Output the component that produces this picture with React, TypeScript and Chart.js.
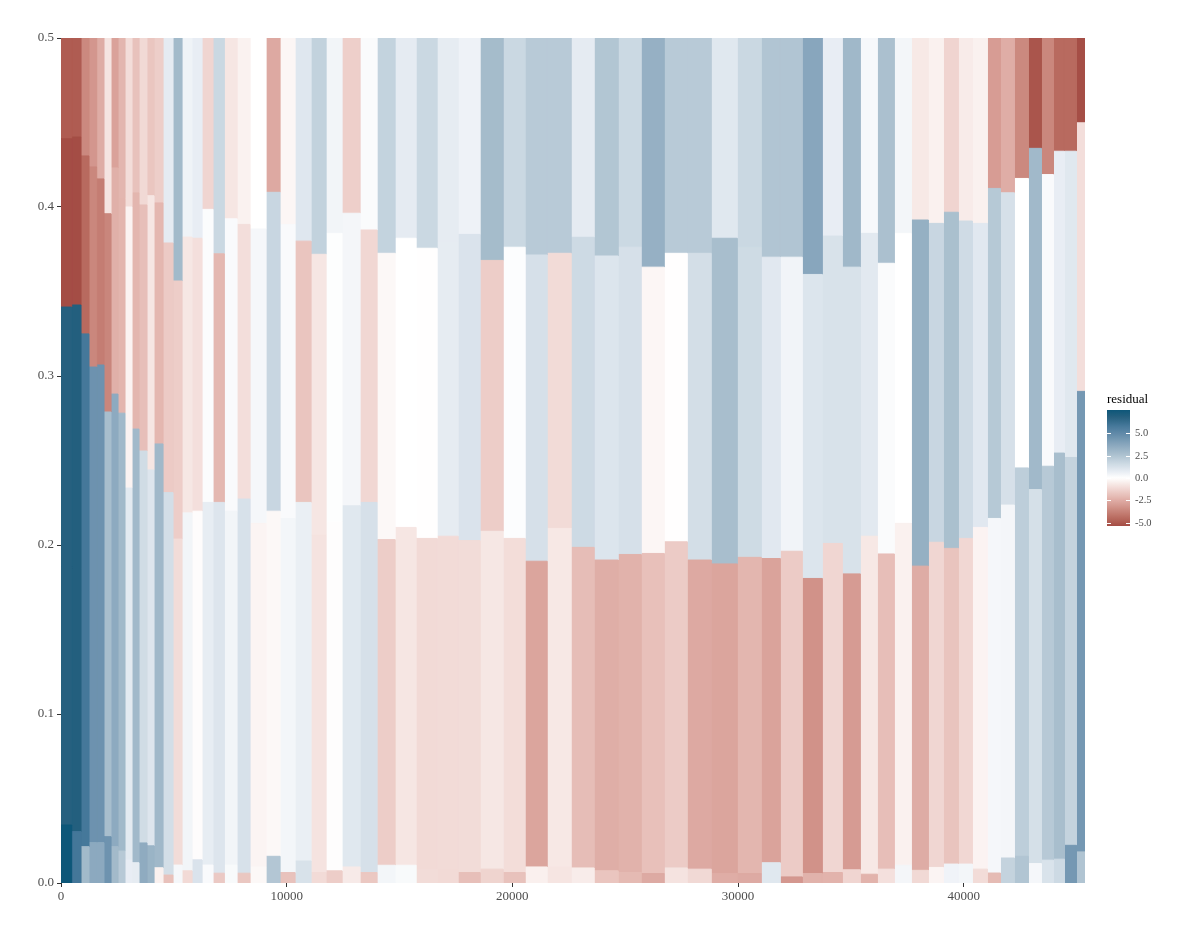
import React, { useEffect, useRef } from 'react';
import { Chart, registerables } from 'chart.js';

Chart.register(...registerables);

// ---------- data ----------
// column edges along x (67 columns)
const X_EDGES = [0, 474, 887, 1241, 1583, 1906, 2217, 2527, 2837, 3148, 3458, 3812, 4123, 4522, 4965, 5364, 5807, 6251, 6738, 7239, 7802, 8378, 9088, 9708, 10373, 11082, 11747, 12456, 13254, 14008, 14806, 15737, 16668, 17599, 18574, 19594, 20569, 21544, 22608, 23628, 24692, 25711, 26731, 27751, 28814, 29967, 31031, 31874, 32849, 33735, 34622, 35420, 36174, 36927, 37681, 38435, 39100, 39765, 40385, 41050, 41627, 42247, 42868, 43444, 43976, 44464, 44996, 45373];

const Y_TOP = 0.5;

// cumulative upper bounds of segments 1..3 (segment 4 reaches Y_TOP)
const BOUND_1 = [0.0343, 0.0304, 0.0215, 0.0239, 0.0239, 0.0274, 0.0215, 0.0189, 0.0136, 0.012, 0.0237, 0.022, 0.009, 0.0047, 0.0106, 0.0072, 0.0137, 0.0106, 0.0058, 0.0106, 0.0058, 0.0095, 0.0158, 0.0062, 0.013, 0.0062, 0.0072, 0.0095, 0.0062, 0.0105, 0.0105, 0.008, 0.008, 0.0062, 0.0082, 0.0062, 0.0095, 0.0095, 0.0089, 0.0072, 0.0062, 0.0056, 0.0089, 0.0082, 0.0056, 0.0056, 0.012, 0.0036, 0.0056, 0.0062, 0.0078, 0.0052, 0.0082, 0.0105, 0.0075, 0.0092, 0.0112, 0.0112, 0.0082, 0.0059, 0.0148, 0.0158, 0.0115, 0.0135, 0.0141, 0.0223, 0.0184];
const BOUND_2 = [0.3408, 0.342, 0.3249, 0.3053, 0.3065, 0.2787, 0.2893, 0.278, 0.2337, 0.2686, 0.2556, 0.2444, 0.2598, 0.231, 0.2035, 0.219, 0.22, 0.2252, 0.2252, 0.22, 0.2272, 0.2128, 0.22, 0.2157, 0.2252, 0.2058, 0.2137, 0.2232, 0.2252, 0.2032, 0.2104, 0.2039, 0.2052, 0.2026, 0.2081, 0.2039, 0.1904, 0.2098, 0.1986, 0.1911, 0.1944, 0.195, 0.2019, 0.1911, 0.1888, 0.1927, 0.192, 0.1963, 0.1802, 0.2009, 0.1829, 0.2052, 0.1947, 0.2128, 0.1875, 0.2016, 0.198, 0.2039, 0.2104, 0.2157, 0.2236, 0.2456, 0.2328, 0.2466, 0.2544, 0.2518, 0.2909];
const BOUND_3 = [0.4404, 0.4414, 0.4302, 0.4237, 0.4166, 0.396, 0.4231, 0.405, 0.4, 0.4083, 0.4012, 0.4067, 0.4024, 0.3787, 0.3562, 0.3822, 0.3815, 0.3986, 0.3723, 0.393, 0.3897, 0.387, 0.4087, 0.3897, 0.3798, 0.372, 0.3844, 0.3963, 0.3864, 0.3726, 0.3815, 0.3756, 0.38, 0.3838, 0.3684, 0.3762, 0.3716, 0.3726, 0.3821, 0.371, 0.3762, 0.3644, 0.3726, 0.3726, 0.3815, 0.3762, 0.3703, 0.3703, 0.3601, 0.3828, 0.3644, 0.3844, 0.3667, 0.3844, 0.3923, 0.3903, 0.3969, 0.3917, 0.3903, 0.411, 0.4084, 0.4169, 0.4347, 0.4192, 0.433, 0.433, 0.4498];

// residuals, bottom segment (1) to top segment (4)
const RESID_1 = [7.6, 5.87, 2.92, 3.61, 3.61, 4.55, 2.89, 2.26, 0.72, 0.79, 3.52, 3.17, -0.42, -1.87, 0.31, -1.11, 1.16, 0.19, -1.63, 0.22, -1.69, -0.21, 2.39, -1.84, 1.22, -1.08, -1.51, -0.63, -1.66, 0.38, 0.22, -1.05, -1.11, -1.93, -1.3, -1.84, -0.45, -0.78, -0.57, -1.75, -2.08, -2.56, -0.84, -1.14, -2.47, -2.56, 0.97, -3.13, -2.32, -2.29, -1.26, -2.29, -0.93, 0.35, -1.14, -0.33, 0.47, 0.38, -1.05, -2.05, 1.85, 2.45, 0.31, 1.19, 1.57, 4.33, 2.48];
const RESID_2 = [6.81, 6.91, 5.84, 4.58, 4.58, 2.73, 3.58, 2.95, 0.88, 2.95, 1.48, 1.07, 2.98, 1.38, -1.05, 0.41, -0.09, 0.75, 1.07, 0.41, 1.26, -0.33, -0.21, 0.38, 0.66, -0.84, -0.06, 0.97, 1.29, -1.51, -0.75, -1.11, -1.08, -1.05, -0.72, -1.02, -2.71, -0.69, -1.99, -2.44, -2.32, -1.9, -1.57, -2.59, -2.71, -2.2, -2.77, -1.57, -3.28, -1.23, -3.01, -0.69, -1.96, -0.42, -2.5, -1.23, -1.78, -1.2, -0.36, 0.31, 0.35, 2.07, 1.32, 2.26, 2.73, 1.85, 4.33];
const RESID_3 = [-5.36, -5.36, -4.49, -3.61, -3.91, -3.64, -2.38, -2.23, -0.36, -2.2, -1.93, -0.75, -2.17, -1.6, -1.51, -0.72, -0.96, 0.13, -2.14, 0.19, -0.99, 0.31, 1.73, 0.19, -1.75, -0.75, 0.06, 0.35, -1.2, -0.21, 0.0, -0.03, 0.79, 1.16, -1.51, 0.09, 1.29, -1.08, 1.57, 1.1, 1.29, -0.27, -0.03, 1.38, 2.73, 1.54, 0.94, 0.44, 1.1, 1.22, 1.22, 0.91, 0.16, 0.0, 3.33, 1.73, 2.67, 1.51, 0.94, 2.29, 1.29, 0.0, 2.95, 0.19, 0.72, 0.97, -0.99];
const RESID_4 = [-4.91, -4.91, -3.55, -3.16, -2.5, -0.81, -2.8, -2.2, -1.02, -1.84, -1.14, -1.72, -1.47, 0.82, 2.92, 0.5, 0.72, -1.26, 1.66, -0.75, -0.39, 0.0, -2.59, -0.27, 1.0, 1.92, 0.41, -1.45, 0.16, 1.88, 0.82, 1.66, 0.79, 0.53, 2.83, 1.66, 2.23, 2.23, 0.82, 2.42, 1.63, 3.3, 2.23, 2.23, 0.97, 1.66, 2.45, 2.45, 3.74, 0.72, 2.98, 0.28, 2.64, 0.38, -0.66, -0.42, -1.29, -0.6, -0.42, -2.98, -2.47, -3.55, -5.12, -3.61, -4.49, -4.49, -5.33];

const X_TICKS = [0, 10000, 20000, 30000, 40000];
const Y_TICKS = [0, 0.1, 0.2, 0.3, 0.4, 0.5];
const LEGEND_TITLE = 'residual';
const LEGEND_BREAKS = [5, 2.5, 0, -2.5, -5];

// ---------- colour scale (diverging, white at 0) ----------
const POS_STOPS: [number, string][] = [
  [0, '#FFFFFF'], [0.817, '#E5EBF2'], [1.664, '#CAD8E2'], [2.732, '#A8BECD'],
  [3.612, '#8CA9BF'], [4.554, '#6E93AF'], [5.841, '#45789A'], [6.815, '#26607F'], [7.6, '#0D5779'],
];
const NEG_STOPS: [number, string][] = [
  [0, '#FFFFFF'], [0.753, '#F6E6E3'], [1.506, '#EDCDC8'], [2.228, '#E3B5AE'],
  [3.011, '#D69B93'], [3.553, '#CB897F'], [4.486, '#B86A5F'], [4.908, '#AF5C52'], [5.45, '#A24A42'],
];

function hexToRgb(h: string): number[] {
  const n = parseInt(h.slice(1), 16);
  return [(n >> 16) & 255, (n >> 8) & 255, n & 255];
}

function residualColor(r: number): string {
  const stops = r < 0 ? NEG_STOPS : POS_STOPS;
  const a = Math.abs(r);
  let i = 0;
  while (i < stops.length - 2 && a > stops[i + 1][0]) i++;
  const [v0, c0] = stops[i];
  const [v1, c1] = stops[i + 1];
  let t = (a - v0) / (v1 - v0);
  t = Math.max(0, Math.min(1, t));
  const p = hexToRgb(c0);
  const q = hexToRgb(c1);
  const m = p.map((x, k) => Math.round(x + (q[k] - x) * t));
  return `rgb(${m[0]},${m[1]},${m[2]})`;
}

const ALL_RESID = [...RESID_1, ...RESID_2, ...RESID_3, ...RESID_4];
const R_MAX = Math.max(...ALL_RESID);
const R_MIN = Math.min(...ALL_RESID);

const FONT_FAMILY = "'Liberation Serif', 'Times New Roman', serif";
const TEXT_COLOR = '#4D4D4D';
const TICK_COLOR = '#333333';

function buildDatasets() {
  const datasets: any[] = [];
  for (let i = 0; i < X_EDGES.length - 1; i++) {
    const x0 = X_EDGES[i];
    const x1 = X_EDGES[i + 1];
    const bounds = [0, BOUND_1[i], BOUND_2[i], BOUND_3[i], Y_TOP];
    const res = [RESID_1[i], RESID_2[i], RESID_3[i], RESID_4[i]];
    for (let k = 0; k < 4; k++) {
      const c = residualColor(res[k]);
      datasets.push({
        data: [
          { x: x0, y: bounds[k] },
          { x: x1, y: bounds[k] },
          { x: x1, y: bounds[k + 1] },
          { x: x0, y: bounds[k + 1] },
          { x: x0, y: bounds[k] },
        ],
        backgroundColor: c,
        borderColor: c,
        borderWidth: 1,
        fill: 'shape',
        pointRadius: 0,
        pointHoverRadius: 0,
        pointHitRadius: 0,
        tension: 0,
      });
    }
  }
  return datasets;
}

function Legend() {
  const barLeft = 1107;
  const barTop = 410;
  const barW = 23;
  const barH = 116;
  const n = 60;
  const stops: string[] = [];
  for (let i = 0; i <= n; i++) {
    const r = R_MAX - (i / n) * (R_MAX - R_MIN);
    stops.push(`${residualColor(r)} ${((i / n) * 100).toFixed(2)}%`);
  }
  const posOf = (v: number) => barTop + ((R_MAX - v) / (R_MAX - R_MIN)) * barH;
  return (
    <>
      <div style={{ position: 'absolute', left: barLeft, top: 392, fontFamily: FONT_FAMILY, fontSize: 13, lineHeight: '13px', color: '#000', whiteSpace: 'nowrap' }}>
        {LEGEND_TITLE}
      </div>
      <div style={{ position: 'absolute', left: barLeft, top: barTop, width: barW, height: barH, background: `linear-gradient(to bottom, ${stops.join(', ')})` }} />
      {LEGEND_BREAKS.map((b) => (
        <React.Fragment key={b}>
          <div style={{ position: 'absolute', left: barLeft, top: Math.round(posOf(b)), width: 4, height: 1, background: '#fff' }} />
          <div style={{ position: 'absolute', left: barLeft + barW - 4, top: Math.round(posOf(b)), width: 4, height: 1, background: '#fff' }} />
          <div style={{ position: 'absolute', left: 1135, top: posOf(b), transform: 'translateY(-50%)', fontFamily: FONT_FAMILY, fontSize: 10.5, lineHeight: '10.5px', color: TEXT_COLOR, whiteSpace: 'nowrap' }}>
            {b.toFixed(1)}
          </div>
        </React.Fragment>
      ))}
    </>
  );
}

export default function App() {
  const ref = useRef<HTMLCanvasElement>(null);

  useEffect(() => {
    if (!ref.current) return;
    const tickFont = { family: FONT_FAMILY, size: 13 };
    const chart = new Chart(ref.current, {
      type: 'line',
      data: { datasets: buildDatasets() },
      options: {
        animation: false,
        responsive: false,
        events: [],
        layout: { padding: { left: 0, right: 115, top: 38, bottom: 0 } },
        plugins: { legend: { display: false }, tooltip: { enabled: false }, title: { display: false } },
        scales: {
          x: {
            type: 'linear',
            min: X_EDGES[0],
            max: X_EDGES[X_EDGES.length - 1],
            bounds: 'data',
            afterBuildTicks: (scale: any) => {
              scale.ticks = X_TICKS.map((v) => ({ value: v }));
            },
            afterFit: (scale: any) => {
              scale.height = 53;
            },
            ticks: {
              callback: (v: any) => String(v),
              color: TEXT_COLOR,
              font: tickFont,
              padding: 2,
              maxRotation: 0,
              autoSkip: false,
            },
            grid: { display: true, drawOnChartArea: false, drawTicks: true, tickLength: 4, color: TICK_COLOR, lineWidth: 1 },
            border: { display: false },
          },
          y: {
            type: 'linear',
            min: 0,
            max: Y_TOP,
            bounds: 'data',
            afterBuildTicks: (scale: any) => {
              scale.ticks = Y_TICKS.map((v) => ({ value: v }));
            },
            afterFit: (scale: any) => {
              scale.width = 61;
            },
            ticks: {
              callback: (v: any) => Number(v).toFixed(1),
              color: TEXT_COLOR,
              font: tickFont,
              padding: 3,
              autoSkip: false,
            },
            grid: { display: true, drawOnChartArea: false, drawTicks: true, tickLength: 4, color: TICK_COLOR, lineWidth: 1 },
            border: { display: false },
          },
        },
      } as any,
    });
    return () => chart.destroy();
  }, []);

  return (
    <div style={{ position: 'absolute', left: 0, top: 0, width: 1200, height: 936, background: '#fff', overflow: 'hidden' }}>
      <canvas ref={ref} width={1200} height={936} style={{ position: 'absolute', left: 0, top: 0, width: 1200, height: 936 }} />
      <Legend />
    </div>
  );
}
